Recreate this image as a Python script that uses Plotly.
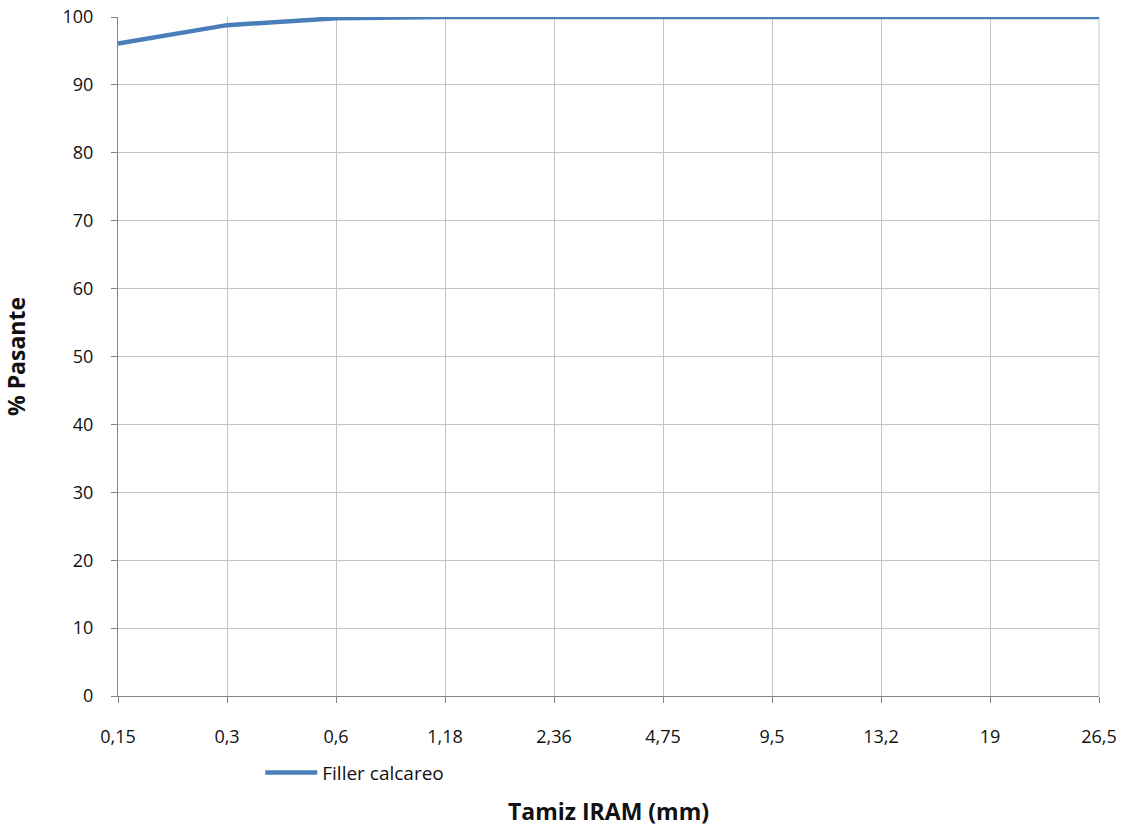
import plotly.graph_objects as go

# Sieve sizes (IRAM, mm) and cumulative percent passing
tamices = ["0,15", "0,3", "0,6", "1,18", "2,36", "4,75", "9,5", "13,2", "19", "26,5"]
filler_calcareo = [96.1, 98.8, 99.8, 100, 100, 100, 100, 100, 100, 100]
y_ticks = [0, 10, 20, 30, 40, 50, 60, 70, 80, 90, 100]

FONT = "Open Sans, Liberation Sans, sans-serif"
TXT = "#111111"

fig = go.Figure()
fig.add_trace(go.Scatter(
    x=tamices,
    y=filler_calcareo,
    mode="lines",
    name="Filler calcareo",
    line=dict(color="#4A7EBB", width=4.5),
    cliponaxis=False,
))

fig.update_layout(
    width=1128,
    height=827,
    margin=dict(l=118, r=29, t=17, b=131),
    paper_bgcolor="white",
    plot_bgcolor="white",
    font=dict(family=FONT, size=18, color=TXT),
    showlegend=True,
    legend=dict(
        orientation="h",
        x=0.145, xanchor="left",
        y=-0.085, yanchor="top",
        itemwidth=52,
        font=dict(family=FONT, size=19, color=TXT),
        bgcolor="rgba(0,0,0,0)",
    ),
    xaxis=dict(
        type="category",
        categoryorder="array",
        categoryarray=tamices,
        range=[0, len(tamices) - 1],
        automargin=False,
        showgrid=True,
        gridcolor="#C4C4C4",
        gridwidth=1,
        showline=True,
        linecolor="#868686",
        linewidth=1,
        ticks="outside",
        ticklen=6,
        tickcolor="#868686",
        ticklabelstandoff=18,
        tickfont=dict(family=FONT, size=18, color=TXT),
        title=dict(text="<b>Tamiz IRAM (mm)</b>", font=dict(family=FONT, size=23, color=TXT), standoff=86),
        zeroline=False,
        mirror=False,
    ),
    yaxis=dict(
        range=[0, 100],
        tickvals=y_ticks,
        automargin=False,
        showgrid=True,
        gridcolor="#C4C4C4",
        gridwidth=1,
        showline=True,
        linecolor="#868686",
        linewidth=1,
        ticks="outside",
        ticklen=6,
        tickcolor="#868686",
        ticklabelstandoff=14,
        tickfont=dict(family=FONT, size=18, color=TXT),
        title=dict(text="<b>% Pasante</b>", font=dict(family=FONT, size=23, color=TXT), standoff=33),
        zeroline=False,
    ),
)

# Right border of the plotting area
fig.add_shape(type="line", xref="paper", yref="paper", x0=1, x1=1, y0=0, y1=1,
              line=dict(color="#C4C4C4", width=1), layer="below")

fig.write_html("out.html")
